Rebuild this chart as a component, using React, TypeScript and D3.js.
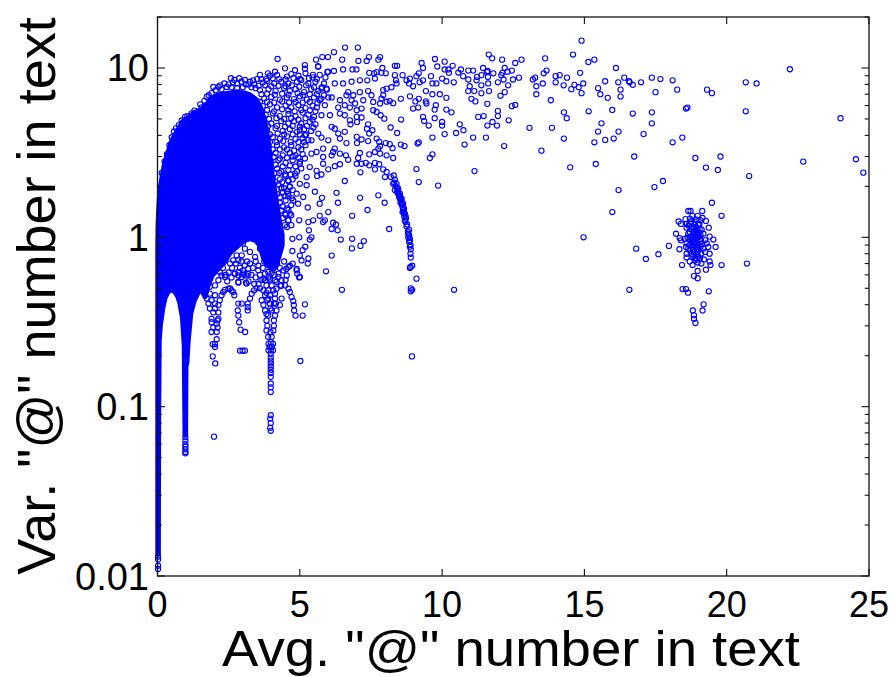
import React, { useRef, useEffect } from "react";
import * as d3 from "d3";

type Pt = [number, number];

// solid mass of overlapping markers: outline of the marker centres
const coreAvg = [0.02, 0.03, 0.05, 0.09, 0.18, 0.26, 0.37, 0.49, 0.61, 0.72, 0.79, 0.885, 0.95, 0.977, 0.99, 1.02, 1.07, 1.16, 1.28, 1.42, 1.55, 1.67, 1.77, 1.91, 2.13, 2.34, 2.55, 2.83, 3.04, 3.25, 3.46, 3.6, 3.74, 3.88, 4.02, 4.16, 4.27, 4.37];
const coreTop = [0.897, 1.18, 1.44, 1.89, 2.32, 2.74, 3.13, 3.64, 4.0, 4.29, 4.47, 4.78, 4.91, 4.91, 4.98, 4.98, 5.05, 5.19, 5.4, 5.55, 5.63, 5.95, 6.2, 6.62, 6.9, 7.0, 7.1, 7.2, 7.1, 6.9, 6.5, 5.9, 5.0, 3.74, 2.32, 1.65, 1.26, 1.03];
const coreBottom = [0.0135, 0.083, 0.247, 0.302, 0.386, 0.442, 0.48, 0.493, 0.48, 0.448, 0.413, 0.337, 0.23, 0.068, 0.175, 0.18, 0.247, 0.356, 0.424, 0.474, 0.493, 0.448, 0.52, 0.596, 0.656, 0.712, 0.815, 0.897, 0.96, 0.986, 0.96, 0.897, 0.751, 0.683, 0.656, 0.674, 0.783, 0.897];

const spikeTips: Pt[] = [[0.02, 0.011], [0.02, 0.0115], [0.02, 0.0125], [0.02, 0.013], [0.98, 0.066], [0.98, 0.063], [0.98, 0.06], [0.98, 0.058], [0.98, 0.056], [0.98, 0.054], [0.98, 0.053], [1.985, 0.0665]];

const rimPoints: Pt[] = [[4.22, 11.3], [2.58, 8.7], [2.87, 8.7], [3.07, 8.5], [1.96, 7.72], [2.14, 7.72], [2.43, 7.72], [1.73, 6.75], [1.9, 7.1], [3.36, 8.45], [3.6, 9.1], [3.88, 9.3], [4.13, 9.5], [4.48, 9.95], [4.83, 9.7], [5.18, 10.4], [5.18, 9.9], [5.64, 10.2], [5.46, 9.1], [5.99, 9.5], [0.58, 4.22], [0.97, 5.14], [1.55, 5.85], [1.38, 5.4], [2.65, 8.2], [3.2, 8.0],
  [2.2, 7.9], [2.35, 8.1], [2.5, 8.0], [2.7, 8.5], [2.8, 8.1], [2.95, 8.3], [3.1, 8.0], [3.25, 8.3], [3.4, 8.0], [3.5, 8.6], [3.65, 8.6], [3.3, 7.7], [3.45, 7.6], [3.0, 7.7], [2.6, 7.7], [2.8, 7.6], [2.05, 7.4], [2.25, 7.5], [1.8, 6.9], [1.65, 6.4], [1.5, 6.1], [1.3, 5.6], [1.2, 5.4], [1.05, 5.2], [0.85, 4.9], [0.75, 4.6], [0.65, 4.4], [0.5, 3.9], [0.42, 3.5], [0.33, 3.1], [0.25, 2.8], [0.15, 2.4]];

const denseFringe: Pt[] = [
  [3.95, 9.0], [4.2, 9.1], [4.55, 8.9], [4.7, 9.2], [4.95, 9.0], [5.2, 9.3], [5.45, 8.8], [5.7, 9.1],
  [3.7, 8.2], [3.85, 8.4], [4.1, 8.1], [4.35, 8.3], [4.6, 8.1], [4.9, 8.3], [5.05, 8.5], [5.3, 8.1], [5.55, 8.3], [5.85, 8.1],
  [3.6, 7.4], [3.9, 7.5], [4.15, 7.3], [4.45, 7.6], [4.65, 7.3], [4.85, 7.5], [5.15, 7.2], [5.4, 7.5], [5.65, 7.3], [5.95, 7.45],
  [3.75, 6.6], [4.0, 6.75], [4.3, 6.5], [4.55, 6.7], [4.8, 6.55], [5.0, 6.8], [5.25, 6.5], [5.5, 6.7], [5.75, 6.6],
  [3.7, 5.95], [3.95, 6.1], [4.2, 5.85], [4.5, 6.0], [4.7, 5.85], [4.95, 6.05], [5.2, 5.8], [5.45, 6.0], [5.6, 5.85],
  [3.8, 5.3], [4.05, 5.4], [4.3, 5.2], [4.6, 5.35], [4.85, 5.2], [5.1, 5.45], [5.3, 5.3], [5.5, 5.15],
  [3.75, 4.8], [4.0, 4.7], [4.35, 4.85], [4.6, 4.7], [4.8, 4.85], [5.05, 4.7], [5.35, 4.8], [5.55, 4.65],
  [3.85, 4.3], [4.15, 4.4], [4.4, 4.25], [4.65, 4.35], [4.9, 4.2], [5.15, 4.35], [5.4, 4.25],
  [3.8, 3.85], [4.05, 3.9], [4.3, 3.8], [4.55, 3.95], [4.85, 3.8], [5.1, 3.85], [5.3, 3.75],
  [3.9, 3.45], [4.2, 3.5], [4.45, 3.4], [4.7, 3.5], [4.95, 3.4], [5.2, 3.5],
  [3.95, 3.1], [4.15, 3.15], [4.4, 3.05], [4.65, 3.15], [4.85, 3.05], [5.1, 3.1],
  [4.0, 2.8], [4.25, 2.85], [4.5, 2.75], [4.75, 2.85], [5.0, 2.8],
  [3.95, 2.5], [4.2, 2.55], [4.35, 2.45], [4.6, 2.5], [4.9, 2.45], [5.05, 2.55],
  [4.05, 2.25], [4.3, 2.2], [4.5, 2.3], [4.75, 2.2],
  [4.05, 2.0], [4.25, 2.05], [4.45, 1.95], [4.65, 2.0],
  [4.2, 1.8], [4.4, 1.85], [4.6, 1.75], [4.3, 1.6], [4.5, 1.65], [4.7, 1.55],
  [4.35, 1.44], [4.55, 1.48], [4.4, 1.3], [4.6, 1.26],
];

const denseFringeInner: Pt[] = [
  [3.82, 8.6], [4.05, 8.7], [4.28, 8.6], [4.5, 8.55], [4.78, 8.7], [5.0, 8.6], [5.32, 8.7], [5.6, 8.6], [5.9, 8.8],
  [3.55, 7.85], [3.78, 7.9], [4.0, 7.8], [4.25, 7.85], [4.5, 7.8], [4.72, 7.9], [4.98, 7.75], [5.22, 7.9], [5.5, 7.7], [5.78, 7.7],
  [3.65, 7.0], [3.85, 7.05], [4.12, 6.95], [4.38, 7.05], [4.6, 6.95], [4.92, 7.1], [5.12, 6.9], [5.35, 7.0], [5.6, 7.0], [5.85, 6.9],
  [3.6, 6.3], [3.85, 6.3], [4.1, 6.25], [4.38, 6.35], [4.62, 6.25], [4.85, 6.3], [5.1, 6.25], [5.35, 6.3], [5.62, 6.2],
  [3.6, 5.6], [3.85, 5.65], [4.1, 5.55], [4.38, 5.7], [4.6, 5.6], [4.82, 5.55], [5.05, 5.65], [5.35, 5.6], [5.55, 5.55],
  [3.7, 5.05], [3.92, 5.0], [4.18, 5.05], [4.45, 5.0], [4.7, 5.05], [4.95, 4.95], [5.2, 5.05], [5.45, 4.95],
  [3.65, 4.5], [3.88, 4.55], [4.2, 4.55], [4.48, 4.5], [4.75, 4.55], [5.0, 4.5], [5.25, 4.55], [5.48, 4.45],
  [3.7, 4.05], [3.95, 4.05], [4.22, 4.1], [4.45, 4.05], [4.75, 4.05], [5.0, 4.05], [5.22, 4.05],
  [3.72, 3.65], [3.95, 3.65], [4.18, 3.65], [4.42, 3.7], [4.68, 3.65], [4.95, 3.65], [5.15, 3.65],
  [3.8, 3.3], [4.05, 3.3], [4.3, 3.3], [4.55, 3.3], [4.8, 3.25], [5.05, 3.3],
  [3.85, 2.95], [4.08, 2.98], [4.3, 2.92], [4.55, 2.95], [4.75, 3.0], [4.95, 2.95],
  [3.95, 2.65], [4.15, 2.68], [4.4, 2.62], [4.65, 2.65], [4.85, 2.62],
  [4.1, 2.38], [4.28, 2.4], [4.48, 2.35], [4.68, 2.35], [4.85, 2.3],
  [4.15, 2.12], [4.38, 2.12], [4.6, 2.15], [4.2, 1.92], [4.35, 1.95], [4.55, 1.88], [4.75, 1.9],
  [4.3, 1.72], [4.5, 1.75], [4.72, 1.7], [4.4, 1.52], [4.6, 1.45], [4.5, 1.36], [4.7, 1.35], [4.55, 1.15], [4.7, 1.18],
];

const upperBand: Pt[] = [
  [6.59, 13.2], [7.04, 13.2], [6.2, 12.4], [5.79, 11.6], [5.99, 11.6], [5.57, 11.2], [6.49, 11.2], [7.06, 11.0], [7.43, 11.6], [7.82, 11.6], [7.76, 11.2], [7.35, 11.0], [5.65, 10.2], [9.75, 11.3], [9.28, 10.7], [10.09, 10.9], [11.64, 12.0], [11.76, 11.4], [12.11, 11.2], [12.79, 11.2], [12.57, 10.7], [13.62, 11.4], [14.6, 12.0], [10.37, 10.3], [9.83, 10.2], [10.09, 9.8], [10.22, 9.8], [11.44, 10], [12.2, 10], [10.66, 9.8], [10.92, 9.65], [11.09, 9.65], [11.6, 9.6], [12.45, 9.65], [13.67, 9.65], [11.8, 9.3], [12.12, 9.36], [12.3, 9.5], [10.57, 9.4], [10.24, 9.36], [9.61, 8.95], [9.33, 10], [9.18, 9.3], [9.1, 8.95], [8.87, 8.66], [8.42, 10.3], [8.34, 10.3], [7.9, 10], [7.44, 9.36], [6.85, 9.8], [6.99, 9.8], [6.52, 9.8], [6.2, 9.6], [5.97, 9.45], [7.87, 9.36], [8.34, 9.07], [8.61, 9.07], [7.7, 9.45], [7.61, 9.3],
];

const midBand: Pt[] = [
  [10.74, 8.95], [10.92, 8.55], [11.23, 8.86], [11.38, 9.07], [11.58, 9.45], [11.61, 8.86], [12.08, 9.07], [12.16, 8.55], [12.49, 8.55], [12.7, 8.77], [13.19, 8.55], [13.27, 8.77], [13.57, 9.3], [13.99, 8.95], [14.13, 9.07], [14.39, 8.77], [13.99, 8.23], [14.27, 7.9], [13.54, 8.1], [13.31, 7.8], [14.65, 7.95], [14.54, 7.5], [14.8, 7.7], [13.31, 7.0], [13.82, 6.45], [8.75, 8.46], [8.84, 8.1], [8.98, 7.8], [9.33, 8.46], [9.21, 8.23], [9.66, 8.1], [9.8, 8.1], [10.0, 8.66], [10.15, 8.35], [10.41, 8.23], [8.4, 8.1], [8.38, 8.46], [10.97, 7.8], [11.21, 8.46], [11.38, 7.9], [11.62, 8.1], [11.96, 8.23], [12.32, 7.9], [10.92, 7.3], [11.13, 7.3], [11.38, 7.1], [11.65, 7.3], [12.2, 7.2], [12.05, 6.85], [9.43, 7.3], [9.66, 7.0], [9.92, 7.0], [10.15, 6.66], [8.87, 6.8], [8.55, 6.57], [8.28, 6.2], [8.05, 6.32], [9.06, 6.35], [9.18, 6.57], [9.43, 6.35], [9.45, 6.17], [9.78, 6.03], [9.74, 5.68], [8.98, 5.76], [9.16, 5.84], [10.15, 5.68], [10.33, 5.47], [11.03, 6.57], [11.17, 6.35], [11.59, 6.14], [12.45, 5.95], [12.57, 6.05], [11.96, 5.58], [11.96, 5.2], [11.27, 5.14], [11.46, 5.2], [12.34, 4.91], [14.28, 5.47], [14.38, 5.05],
];

const lowerBand: Pt[] = [
  [9.33, 5.14], [9.37, 4.86], [9.74, 5.05], [10.0, 4.8], [10.0, 4.57], [9.53, 4.57], [8.56, 4.96], [8.19, 4.45], [8.42, 4.13], [10.62, 4.65], [10.75, 4.29], [10.49, 4.13], [10.09, 4.07], [9.66, 3.88], [11.59, 4.57], [11.77, 4.8], [11.93, 4.57], [13.07, 4.43], [13.86, 4.43], [11.09, 3.88], [11.54, 3.88], [14.28, 3.83], [10.79, 3.53], [9.18, 3.64], [9.14, 3.58], [8.55, 3.53], [8.68, 3.46], [12.18, 3.46], [13.49, 3.25], [9.57, 2.94], [9.66, 3.09], [14.5, 2.59], [9.1, 2.53], [11.14, 2.46], [9.18, 2.12], [9.86, 2.02], [8.94, 0.198], [8.9, 0.5], [8.95, 0.49], [8.9, 0.48], [10.42, 0.49], [6.48, 0.49],
];

const arcPoints: Pt[] = [
  [7.93, 2.52], [8.05, 2.43], [8.3, 2.32], [8.34, 2.19], [8.4, 2.07], [8.46, 1.94], [8.52, 1.81], [8.58, 1.69], [8.63, 1.58], [8.66, 1.48], [8.69, 1.38], [8.73, 1.29], [8.77, 1.19], [8.84, 1.11], [8.84, 1.03], [8.87, 0.96], [8.89, 0.9], [8.9, 0.85], [8.9, 0.76], [8.89, 0.668], [8.95, 0.68], [8.87, 0.66], [9.1, 0.57], [8.28, 2.07], [8.34, 1.9], [8.42, 1.85], [8.49, 1.73], [8.54, 1.6], [8.61, 1.51], [8.66, 1.39], [8.69, 1.26], [8.81, 1.05], [8.81, 1.0], [8.84, 0.94], [8.46, 1.81], [8.58, 1.58], [8.61, 1.41], [8.2, 2.27], [7.99, 2.27],
  [8.44, 1.88], [8.5, 1.76], [8.55, 1.66], [8.6, 1.55], [8.63, 1.45], [8.67, 1.33], [8.71, 1.23], [8.75, 1.16], [8.8, 1.08], [8.86, 0.99], [8.87, 0.88], [8.89, 0.8], [8.42, 1.95], [8.37, 2.0], [8.32, 2.1], [8.53, 1.68], [8.57, 1.62], [8.65, 1.42], [8.72, 1.33],
];

const innerScatter: Pt[] = [
  [6.7, 7.2], [6.88, 6.9], [7.11, 7.2], [7.4, 7.3], [7.52, 6.9], [7.23, 6.45], [7.58, 6.3], [7.82, 6.17], [7.93, 7.4], [8.05, 7.55], [8.22, 7.7], [7.93, 6.9], [8.16, 6.38], [7.87, 6.6], [6.82, 6.45], [6.64, 6.9], [6.41, 6.45], [6.35, 5.84], [6.58, 6.03], [6.94, 6.17], [6.76, 5.84], [7.0, 5.63], [7.17, 5.76], [6.41, 5.38], [6.58, 5.26], [6.76, 4.91], [7.0, 5.14], [7.17, 5.1], [7.01, 4.8], [6.78, 4.65], [6.06, 5.26], [5.76, 5.26], [5.88, 6.03], [5.7, 6.45], [6.0, 6.7], [6.12, 6.7], [5.76, 7.55], [5.94, 7.55], [6.23, 8.1], [6.52, 8.1], [6.82, 8.3], [7.11, 8.46], [7.37, 8.46], [7.64, 8.66], [8.02, 9.3], [7.58, 5.63], [7.7, 5.5], [7.84, 5.26], [7.97, 5.02],
  [7.4, 4.65], [7.55, 4.29], [7.36, 4.38], [7.44, 4.1], [6.58, 4.2], [6.12, 4.49], [6.23, 4.38], [6.35, 4.1], [6.41, 3.83], [6.64, 3.6], [7.0, 3.92], [7.17, 3.78], [7.01, 3.6], [7.4, 3.7], [7.7, 3.83], [7.79, 3.66], [8.02, 3.6], [8.16, 3.55], [8.26, 3.36], [7.76, 3.34], [7.82, 3.45], [7.64, 3.19], [7.82, 3.12], [8.05, 3.05], [8.28, 2.94], [7.44, 3.09], [7.11, 3.15], [7.05, 2.94], [6.7, 2.87], [6.41, 3.12], [6.62, 3.05], [6.17, 3.19], [5.82, 3.34], [5.59, 3.19], [5.41, 3.12], [5.82, 2.98], [6.12, 3.05], [6.23, 3.34], [6.0, 3.74], [5.76, 3.88], [5.65, 4.1], [5.41, 3.74], [5.18, 4.0], [5.0, 4.29],
  [7.0, 2.72], [7.17, 2.72], [7.32, 2.75], [7.44, 2.66], [7.64, 2.75], [7.79, 2.7], [7.64, 2.52], [7.13, 2.42], [6.41, 2.7], [6.23, 2.63], [6.0, 2.52], [5.82, 2.72], [5.59, 2.47], [5.76, 2.35], [5.61, 2.3], [6.58, 2.15], [5.53, 1.86], [6.29, 1.83], [5.78, 1.71], [5.7, 1.58], [6.34, 1.6], [5.28, 1.5], [7.12, 1.71], [7.76, 1.77], [7.98, 1.6], [7.38, 1.45], [6.0, 1.41], [5.7, 1.34], [6.84, 1.34], [5.88, 1.26], [5.82, 1.23], [5.3, 1.23], [5.47, 1.26], [4.98, 1.26], [6.17, 1.22], [6.27, 1.19], [6.12, 1.12], [6.33, 1.1], [5.32, 1.1], [8.14, 1.12], [5.41, 1.0], [5.35, 0.97], [4.98, 1.0], [4.74, 0.98], [6.44, 0.97], [6.84, 0.98], [7.25, 0.95], [7.13, 0.89], [6.83, 0.86], [5.19, 0.88], [5.1, 0.84], [4.74, 0.83], [6.12, 0.78], [5.0, 0.78], [5.3, 0.75], [5.06, 0.73], [5.28, 0.7], [5.92, 0.63], [4.65, 0.68], [4.89, 0.65], [4.53, 0.65], [4.98, 0.58], [4.94, 1.58], [4.77, 1.65], [5.12, 1.73], [4.89, 1.81], [5.24, 2.03], [5.0, 2.07], [5.24, 2.27], [4.83, 2.38], [5.35, 2.6], [5.0, 2.72], [5.18, 2.92], [4.65, 1.98], [4.59, 2.17], [4.59, 1.26], [4.48, 1.18], [4.48, 1.38], [4.65, 1.38], [4.59, 1.81],
];

// the scallops and stalks under the mass, around whole-number averages
const stalkTwo: Pt[] = [[1.9, 0.276], [2.08, 0.276], [2.11, 0.293], [1.9, 0.315], [2.11, 0.323], [1.96, 0.36], [2.14, 0.36], [1.84, 0.38], [2.02, 0.38], [1.79, 0.406], [2.14, 0.398], [1.73, 0.435], [2.19, 0.425], [1.84, 0.465], [2.02, 0.455], [2.31, 0.475], [2.49, 0.497], [2.6, 0.486], [2.7, 0.455], [1.94, 0.234], [2.02, 0.234], [2.08, 0.25], [2.02, 0.225], [1.94, 0.198], [2.03, 0.18], [2.37, 0.49], [2.55, 0.5], [2.66, 0.475], [2.25, 0.455], [2.08, 0.309], [1.96, 0.293], [1.9, 0.33], [2.14, 0.33], [2.02, 0.406], [1.9, 0.425], [1.49, 0.546], [1.61, 0.533], [1.73, 0.558], [1.84, 0.51], [2.02, 0.52], [2.14, 0.558], [2.25, 0.595], [2.37, 0.583]];
const stalkThree: Pt[] = [[2.84, 0.406], [2.96, 0.406], [2.82, 0.37], [2.84, 0.345], [2.87, 0.315], [2.92, 0.285], [3.08, 0.276], [3.17, 0.406], [3.17, 0.387], [3.17, 0.37], [2.99, 0.214], [3.07, 0.214], [2.9, 0.214], [2.72, 0.61], [2.84, 0.595], [3.01, 0.61], [3.19, 0.61], [2.84, 0.54], [3.11, 0.54]];
const stalkFour: Pt[] = [[3.98, 0.24], [3.9, 0.235], [4.06, 0.235], [3.94, 0.225], [4.02, 0.225], [3.9, 0.215], [3.98, 0.215], [4.06, 0.215], [3.98, 0.205], [3.98, 0.195], [3.98, 0.187], [3.98, 0.18], [3.98, 0.172], [3.98, 0.165], [3.98, 0.158], [3.98, 0.15], [3.98, 0.137], [3.98, 0.13], [3.98, 0.122], [3.98, 0.089], [3.96, 0.085], [3.98, 0.08], [3.96, 0.075], [3.98, 0.072], [3.83, 0.282], [4.07, 0.282], [3.86, 0.3], [4.09, 0.3], [3.83, 0.323], [4.09, 0.323], [3.89, 0.345], [4.13, 0.345], [3.78, 0.37], [4.01, 0.37], [4.18, 0.37], [3.72, 0.398], [3.95, 0.406], [4.16, 0.406], [3.66, 0.425], [3.89, 0.435], [4.13, 0.435], [4.36, 0.435], [4.3, 0.398], [3.78, 0.455], [4.01, 0.258], [3.89, 0.258], [3.97, 0.276], [3.78, 0.558], [3.95, 0.57], [4.13, 0.558], [3.83, 0.52], [4.01, 0.52], [4.18, 0.546], [4.36, 0.558], [4.54, 0.595], [3.78, 0.61], [4.01, 0.615], [4.25, 0.61], [3.89, 0.486], [4.07, 0.486], [3.95, 0.455], [4.13, 0.465], [3.86, 0.425], [4.09, 0.406], [3.97, 0.38], [3.83, 0.352]];
const scallopArches: Pt[] = [[3.25, 0.435], [3.31, 0.465], [3.39, 0.486], [3.48, 0.5], [3.6, 0.5], [3.72, 0.486], [3.83, 0.47], [4.18, 0.497], [4.32, 0.515], [4.48, 0.52], [4.6, 0.497], [4.65, 0.475], [4.71, 0.444], [4.77, 0.42], [4.79, 0.398], [4.8, 0.37], [4.85, 0.345], [5.18, 0.402], [5.1, 0.345], [5.02, 0.186]];
const underMass: Pt[] = [[3.0, 0.918], [3.07, 0.857], [2.96, 0.783], [2.78, 0.783], [2.66, 0.731], [2.55, 0.7], [2.84, 0.731], [3.07, 0.683], [3.19, 0.653], [3.0, 0.638], [2.84, 0.624], [2.72, 0.61], [2.96, 0.583], [3.13, 0.596], [2.84, 0.545], [3.13, 0.533], [3.54, 0.638], [3.72, 0.57], [3.89, 0.624], [4.07, 0.653], [4.25, 0.583], [4.42, 0.638], [4.6, 0.668], [4.75, 0.7], [3.95, 0.557], [3.43, 0.765], [3.25, 0.82], [3.6, 0.857], [5.0, 0.583], [4.89, 0.638], [4.91, 0.61],
  [3.25, 0.7], [3.35, 0.66], [3.45, 0.72], [3.55, 0.68], [3.3, 0.6], [3.45, 0.58], [3.6, 0.6], [3.7, 0.66], [3.4, 0.53], [3.2, 0.55], [3.55, 0.53], [3.65, 0.56], [3.75, 0.72], [3.85, 0.7], [3.95, 0.68], [4.05, 0.72], [4.2, 0.7], [4.3, 0.66], [4.45, 0.72], [4.5, 0.56], [4.35, 0.52], [4.1, 0.6], [3.9, 0.58], [2.5, 0.62], [2.62, 0.66], [2.4, 0.6], [2.3, 0.66], [2.45, 0.55], [2.6, 0.58], [2.75, 0.7], [2.9, 0.66], [3.05, 0.6], [2.2, 0.62], [2.1, 0.66], [2.95, 0.72], [3.15, 0.72]];

const clusterCore: Pt[] = [[18.71, 1.2], [18.89, 1.23], [19.04, 1.19], [18.59, 1.14], [18.77, 1.12], [18.94, 1.14], [19.12, 1.11], [18.65, 1.05], [18.83, 1.06], [19.0, 1.05], [19.18, 1.05], [18.53, 0.98], [18.71, 1.0], [18.89, 0.98], [19.06, 0.98], [19.24, 0.96], [18.59, 0.92], [18.77, 0.93], [18.94, 0.92], [19.12, 0.91], [18.65, 0.857], [18.83, 0.857], [19.0, 0.845], [19.18, 0.857], [18.77, 0.8], [18.94, 0.79], [18.89, 1.19], [18.8, 1.0], [18.97, 1.01], [18.85, 0.94], [18.92, 0.877], [18.71, 1.29], [18.94, 1.27], [19.08, 1.26], [18.57, 0.877], [19.3, 0.92], [19.35, 0.877], [19.24, 0.82], [19.06, 0.75], [18.89, 0.75],
  [18.74, 1.15], [18.84, 1.13], [18.98, 1.1], [19.05, 1.12], [18.7, 1.08], [18.86, 1.08], [18.96, 1.07], [19.08, 1.03], [18.72, 0.97], [18.8, 0.96], [18.93, 1.03], [19.0, 1.0], [19.1, 0.95], [18.68, 0.9], [18.8, 0.9], [18.88, 0.92], [19.0, 0.9], [19.08, 0.88], [18.72, 0.83], [18.85, 0.82], [18.98, 0.82], [19.1, 0.8], [18.82, 0.77], [18.95, 0.75], [18.75, 1.24], [19.0, 1.2], [18.9, 1.1], [18.92, 0.97], [18.86, 1.02], [18.96, 0.86], [18.66, 1.17], [18.62, 1.0], [18.6, 1.2], [18.7, 0.72], [19.0, 0.77]];
const clusterEdge: Pt[] = [[18.65, 1.43], [18.73, 1.43], [18.31, 1.24], [18.39, 1.2], [18.55, 1.28], [18.79, 1.34], [18.98, 1.34], [19.15, 1.3], [19.27, 1.25], [19.37, 1.14], [18.22, 1.05], [18.35, 0.99], [18.39, 0.96], [19.4, 1.01], [19.53, 0.97], [19.61, 0.877], [19.4, 0.8], [18.34, 0.85], [18.59, 0.76], [18.59, 0.8], [19.4, 0.72], [19.43, 0.686], [19.2, 0.74], [19.27, 0.644], [18.98, 0.633], [18.85, 0.59], [18.98, 0.573], [18.8, 0.686], [19.11, 0.7], [18.89, 0.73], [18.98, 0.71], [18.45, 0.495], [18.57, 0.495], [18.64, 0.471], [19.37, 0.48], [19.19, 0.402], [19.15, 0.37], [18.81, 0.37], [18.85, 0.346], [18.85, 0.33], [18.9, 0.312]];

const rightTail: Pt[] = [[14.9, 14.5], [15.14, 10.85], [15.35, 11.2], [16.11, 10], [14.85, 9.36], [16.4, 8.77], [16.57, 8.35], [16.59, 8.23], [16.7, 7.95], [15.73, 8.35], [16.19, 8.23], [16.99, 8.23], [17.37, 8.77], [17.67, 8.6], [18.1, 8.46], [14.96, 8.1], [15.48, 7.6], [16.27, 7.45], [18.26, 7.45], [19.31, 7.45], [19.48, 7.1], [20.67, 8.23], [21.05, 8.1], [22.22, 9.83], [17.5, 7.2], [15.56, 7.0], [15.82, 6.66], [16.27, 6.78], [14.9, 7.1], [15.15, 5.55], [15.98, 5.65], [16.7, 5.38], [17.37, 5.47], [18.57, 5.76], [18.62, 5.84], [20.67, 5.55], [24.0, 5.05], [15.6, 4.71], [17.37, 4.71], [15.48, 4.21], [16.2, 4.21], [17.08, 4.07], [15.35, 3.64], [15.73, 3.76], [16.03, 3.83], [18.1, 3.64], [18.44, 3.88], [16.75, 3.0], [18.9, 2.94], [19.78, 3.0], [22.69, 2.8], [24.54, 2.89], [24.8, 2.41], [15.4, 2.71], [19.27, 2.58], [19.69, 2.5], [20.79, 2.3], [17.76, 2.15], [17.46, 1.98], [16.2, 1.9], [19.48, 1.6], [15.98, 1.41], [19.14, 1.43], [19.82, 1.34], [14.97, 1.0], [17.97, 0.89], [16.82, 0.857], [17.6, 0.795], [17.16, 0.745], [16.58, 0.49], [20.71, 0.7], [19.82, 0.686], [18.43, 0.686]];

const xTicks = [0, 5, 10, 15, 20, 25];
const yMajor = [0.01, 0.1, 1, 10];
const yLabels = ["0.01", "0.1", "1", "10"];
const yMinor = [0.02, 0.03, 0.04, 0.05, 0.06, 0.07, 0.08, 0.09, 0.2, 0.3, 0.4, 0.5, 0.6, 0.7, 0.8, 0.9, 2, 3, 4, 5, 6, 7, 8, 9, 20];

const BLUE = "#0000ff";
const FONT = "'Liberation Sans', Arial, sans-serif";

export default function App() {
  const svgRef = useRef<SVGSVGElement>(null);

  useEffect(() => {
    const width = 895;
    const height = 677;
    const left = 157.5;
    const right = 869;
    const top = 17;
    const bottom = 576;

    const svg = d3.select(svgRef.current).attr("width", width).attr("height", height);
    svg.selectAll("*").remove(); // Clear previous render

    const x = d3.scaleLinear().domain([0, 25]).range([left, right]);
    const y = d3.scaleLog().domain([0.01, 20]).range([bottom, top]);

    svg.append("rect").attr("width", width).attr("height", height).attr("fill", "#fff");

    // solid part of the cloud, stroke as wide as a marker
    const core = d3
      .area<number>()
      .x((d) => x(d))
      .y0((_, i) => y(coreBottom[i]))
      .y1((_, i) => y(coreTop[i]));

    svg
      .append("path")
      .attr("d", core(coreAvg))
      .attr("fill", BLUE)
      .attr("stroke", BLUE)
      .attr("stroke-width", 5.6)
      .attr("stroke-linejoin", "round");

    const allPoints = [
      ...spikeTips, ...rimPoints, ...denseFringe, ...denseFringeInner, ...upperBand, ...midBand, ...lowerBand, ...arcPoints, ...innerScatter,
      ...stalkTwo, ...stalkThree, ...stalkFour, ...scallopArches, ...underMass, ...clusterCore, ...clusterEdge, ...rightTail,
    ];

    svg
      .append("g")
      .selectAll("circle")
      .data(allPoints)
      .join("circle")
      .attr("cx", (d) => x(d[0]))
      .attr("cy", (d) => y(d[1]))
      .attr("r", 2.6)
      .attr("fill", "none")
      .attr("stroke", BLUE)
      .attr("stroke-width", 1.1);

    // frame and inward ticks on all four sides
    svg
      .append("rect")
      .attr("x", left)
      .attr("y", top)
      .attr("width", right - left)
      .attr("height", bottom - top)
      .attr("fill", "none")
      .attr("stroke", "#111")
      .attr("stroke-width", 1.3);

    const ticks = svg.append("g").attr("stroke", "#111").attr("stroke-width", 1.1);
    xTicks.forEach((t) => {
      ticks.append("line").attr("x1", x(t)).attr("x2", x(t)).attr("y1", bottom).attr("y2", bottom - 7);
      ticks.append("line").attr("x1", x(t)).attr("x2", x(t)).attr("y1", top).attr("y2", top + 7);
    });
    const yTick = (v: number, len: number) => {
      ticks.append("line").attr("x1", left).attr("x2", left + len).attr("y1", y(v)).attr("y2", y(v));
      ticks.append("line").attr("x1", right).attr("x2", right - len).attr("y1", y(v)).attr("y2", y(v));
    };
    yMajor.forEach((v) => yTick(v, 7.5));
    yMinor.forEach((v) => yTick(v, 4.3));

    const labels = svg.append("g").attr("font-family", FONT).attr("fill", "#000");
    labels
      .selectAll("text.xt")
      .data(xTicks)
      .join("text")
      .attr("class", "xt")
      .attr("x", (d) => x(d))
      .attr("y", 617)
      .attr("text-anchor", "middle")
      .attr("font-size", 36)
      .text((d) => d);
    labels
      .selectAll("text.yt")
      .data(yMajor)
      .join("text")
      .attr("class", "yt")
      .attr("x", 149)
      .attr("y", (d) => y(d) + 13.5)
      .attr("text-anchor", "end")
      .attr("font-size", 38)
      .text((_, i) => yLabels[i]);

    labels
      .append("text")
      .attr("x", 222)
      .attr("y", 666)
      .attr("font-size", 50)
      .attr("textLength", 578)
      .attr("lengthAdjust", "spacingAndGlyphs")
      .text('Avg. "@" number in text');
    labels
      .append("text")
      .attr("transform", "translate(55,296) rotate(-90)")
      .attr("text-anchor", "middle")
      .attr("font-size", 54)
      .text('Var. "@" number in text');
  }, []);

  return <svg ref={svgRef} style={{ position: "absolute", left: 0, top: 0 }}></svg>;
}
